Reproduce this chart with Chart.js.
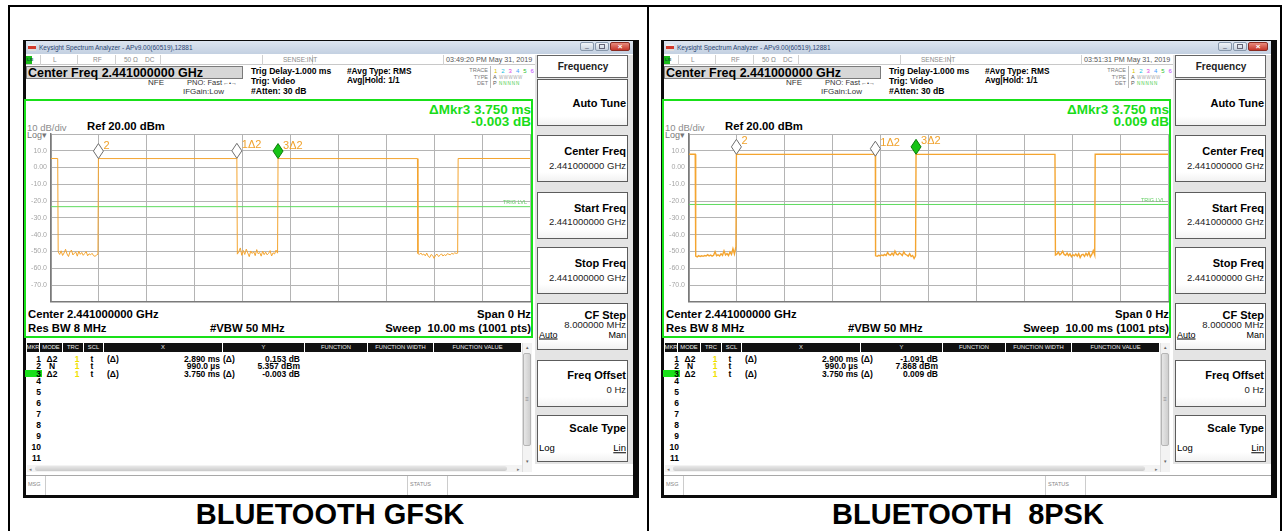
<!DOCTYPE html>
<html>
<head>
<meta charset="utf-8">
<script src="https://cdn.jsdelivr.net/npm/chart.js@4.4.1/dist/chart.umd.min.js"></script>
<style>
html,body{margin:0;padding:0;background:#fff;}
#page{position:relative;width:1285px;height:531px;overflow:hidden;font-family:"Liberation Sans",Arial,sans-serif;color:#000;}
.a{position:absolute;box-sizing:border-box;}
.t{position:absolute;white-space:pre;line-height:1;}
</style>
</head>
<body>
<div id="page"></div>
<script>
// ---- captions and instrument readouts ----
const panelCaptions = ['BLUETOOTH GFSK', 'BLUETOOTH  8PSK'];
const panelTimestamps = ['03:49:20 PM May 31, 2019', '03:51:31 PM May 31, 2019'];
const yTicksDbm = [20, 10, 0, -10, -20, -30, -40, -50, -60, -70, -80];
const sweepMs = [0, 10];

// ---- GFSK trace: burst on/off times (ms), burst levels and off-time noise floor (dBm) ----
const gfskBurstStartMs = [0, 0.99, 4.74, 8.50];
const gfskBurstEndMs = [0.14, 3.88, 7.65, 10];
const gfskBurstDbm = [5.40, 5.36, 5.35, 5.40];
const gfskGap1 = [-50.2,-51.8,-49.6,-52.4,-50.9,-48.7,-51.5,-53.0,-50.3,-49.2,-52.1,-51.0,-50.4,-52.8,-49.9,-51.7,-50.6,-52.3,-51.2,-50.0,-52.6,-51.4,-52.0,-51.1,-52.5,-52.9,-52.2,-51.6];
const gfskGap2 = [-51.6,-50.1,-47.9,-52.3,-49.4,-51.8,-48.6,-50.9,-53.1,-49.7,-51.2,-50.2,-52.5,-48.9,-51.4,-50.6,-52.8,-49.8,-51.9,-50.4,-52.0,-51.1,-49.5,-52.7,-50.8,-51.5,-49.2,-51.0];
const gfskGap3 = [-51.2,-51.8,-50.9,-52.1,-51.5,-52.6,-51.0,-52.9,-53.6,-51.8,-52.4,-54.1,-52.2,-51.6,-53.0,-52.3,-51.4,-52.7,-51.9,-52.5,-51.3,-51.7,-52.0,-51.1,-51.6,-50.8,-51.2,-51.0];
const gfskTrigDbm = -23.3;

// ---- 8PSK trace ----
const psk8BurstStartMs = [0, 0.99, 4.74, 8.48];
const psk8BurstEndMs = [0.13, 3.89, 7.64, 10];
const psk8BurstDbm = [7.90, 7.87, 7.88, 7.90];
const psk8Gap1 = [-52.8,-53.2,-52.5,-53.0,-52.6,-52.9,-52.4,-52.7,-51.9,-52.6,-52.2,-52.8,-52.3,-50.1,-52.5,-52.0,-52.7,-51.4,-52.3,-49.6,-52.1,-51.2,-52.4,-50.3,-51.8,-48.4,-51.5,-47.2];
const psk8Gap2 = [-52.6,-52.9,-52.3,-52.7,-52.1,-52.5,-51.8,-52.4,-50.6,-51.9,-52.2,-51.0,-52.3,-49.8,-51.6,-52.0,-50.9,-51.5,-52.4,-50.2,-51.7,-52.1,-52.8,-51.3,-53.0,-52.4,-54.2,-52.6];
const psk8Gap3 = [-52.1,-51.6,-50.4,-52.0,-51.2,-49.9,-51.8,-52.3,-51.0,-52.5,-51.4,-53.1,-51.9,-52.6,-51.5,-52.8,-51.3,-53.6,-52.0,-51.7,-52.9,-51.1,-52.4,-50.6,-53.2,-51.8,-49.5,-52.2];
const psk8TrigDbm = -22.0;

// ---- marker table (marker 2 is the reference, 1 and 3 are deltas to it) ----
const markerModes = ['Δ2', 'N', 'Δ2'];
const markerFlags = ['1Δ2', '2', '3Δ2'];
const gfskMarkerX = [2.890, 0.990, 3.750];
const gfskMarkerY = [0.153, 5.357, -0.003];
const psk8MarkerX = [2.900, 0.990, 3.750];
const psk8MarkerY = [-1.091, 7.868, 0.009];
const tableRowY = [359, 366.3, 373.6, 381, 392, 403, 414, 425, 436, 447, 458];

// ---- soft keys ----
const softkeyTitles = ['Auto Tune', 'Center Freq', 'Start Freq', 'Stop Freq', 'CF Step', 'Freq Offset', 'Scale Type'];
const softkeyValues = ['', '2.441000000 GHz', '2.441000000 GHz', '2.441000000 GHz', '8.000000 MHz', '0 Hz', ''];

const page = document.getElementById('page');
function box(p, x, y, w, h, css) {
  const d = document.createElement('div');
  d.className = 'a';
  d.style.cssText = `left:${x}px;top:${y}px;width:${w}px;height:${h}px;` + (css || '');
  p.appendChild(d);
  return d;
}
function text(p, x, y, s, css, align) {
  const d = document.createElement('div');
  d.className = 't';
  d.textContent = s;
  d.style.cssText = `left:${x}px;top:${y}px;` + (css || '');
  const tx = align === 'r' ? '-100%' : align === 'c' ? '-50%' : '0';
  d.style.transform = `translate(${tx},-50%)`;
  p.appendChild(d);
  return d;
}

// bursts, noise gaps between them, and marker readings placed on the trace
function buildTrace(starts, ends, levels, gaps, markers) {
  const pts = [];
  for (let i = 0; i < starts.length; i++) {
    pts.push({x: starts[i], y: levels[i]});
    pts.push({x: ends[i], y: levels[i]});
    if (i < gaps.length) {
      const g = gaps[i], t0 = ends[i] + 0.01, t1 = starts[i + 1] - 0.01;
      g.forEach((v, k) => pts.push({x: t0 + (t1 - t0) * k / (g.length - 1), y: v}));
    }
  }
  markers.forEach(m => {
    const k = pts.findIndex(p => p.x > m.t + 1e-6);
    pts.splice(k < 0 ? pts.length : k, 0, {x: m.t, y: m.dbm});
  });
  return pts;
}

const markerPlugin = {
  id: 'mkrs',
  afterDatasetsDraw(chart, args, opts) {
    const {ctx, scales: {x, y}, chartArea} = chart;
    ctx.save();
    const ty = y.getPixelForValue(opts.trig);
    ctx.fillStyle = '#66d066';
    ctx.font = '5.5px "Liberation Sans"';
    ctx.textAlign = 'right';
    ctx.textBaseline = 'bottom';
    ctx.fillText('TRIG LVL', chartArea.right - 3, ty - 1);
    ctx.textAlign = 'left';
    opts.items.forEach(m => {
      const px = x.getPixelForValue(m.t), py = y.getPixelForValue(m.dbm);
      ctx.beginPath();
      ctx.moveTo(px, py);
      ctx.lineTo(px + 5, py - 7.5);
      ctx.lineTo(px, py - 15);
      ctx.lineTo(px - 5, py - 7.5);
      ctx.closePath();
      ctx.fillStyle = m.active ? '#16c416' : '#ffffff';
      ctx.fill();
      ctx.lineWidth = 1;
      ctx.strokeStyle = m.active ? '#0b7a0b' : '#6e6e6e';
      ctx.stroke();
      ctx.fillStyle = '#f0a22c';
      ctx.font = '11px "Liberation Sans"';
      ctx.textBaseline = 'middle';
      ctx.fillText(m.label, px + 5, py - 13);
    });
    ctx.restore();
  }
};

function tickText(v) {
  if (v === 20 || v === -80) return '';
  if (v === 0) return '0.00';
  return v.toFixed(1);
}

function panel(dx, cfg) {
  const P = box(page, dx, 0, 645, 531, '');
  // window frame and title bar
  box(P, 23, 40, 616, 458, 'background:#0b0b0b');
  box(P, 26, 41, 607, 454, 'background:#fff');
  box(P, 26, 41, 607, 13, 'background:linear-gradient(#dde5f0,#c3d0e1)');
  box(P, 28, 44, 8, 7, 'background:linear-gradient(#eee 0 35%,#d2392a 35% 70%,#ddd 70%)');
  text(P, 39, 47.5, 'Keysight Spectrum Analyzer - APv9.00(60519),12881', 'font-size:6.5px;color:#2b4673');
  box(P, 580, 42, 14, 9, 'background:linear-gradient(#f1f4f8,#c8d2de);border:1px solid #8797ab;border-radius:2px');
  box(P, 595, 42, 14, 9, 'background:linear-gradient(#f1f4f8,#c8d2de);border:1px solid #8797ab;border-radius:2px');
  box(P, 610, 42, 20, 9, 'background:linear-gradient(#e88a7c,#c5362a);border:1px solid #8a2b22;border-radius:2px');
  text(P, 620, 46.5, '×', 'font-size:8px;color:#fff;font-weight:bold', 'c');
  text(P, 587, 46.5, '–', 'font-size:7px;color:#556', 'c');
  box(P, 599, 44, 6, 5, 'border:1px solid #667');

  // status row
  box(P, 26, 55, 607, 10, 'border-bottom:1px solid #c8c8c8');
  [40, 77, 115, 160, 262, 312, 443, 535].forEach(x => box(P, x, 55, 1, 10, 'background:#d0d0d0'));
  box(P, 26, 56, 6, 8, 'background:#1bbd1b');
  text(P, 27, 60, 'LXI', 'font-size:4px;color:#053;font-weight:bold');
  [['L', 53], ['RF', 93], ['50 Ω', 124], ['DC', 145], ['SENSE:INT', 283]].forEach(([s, x]) =>
    text(P, x, 60, s, 'font-size:6.5px;color:#8a8a8a'));
  text(P, 446, 60, cfg.stamp, 'font-size:7.2px;color:#555');

  // centre frequency field and setup readouts
  box(P, 26, 66, 217, 13, 'background:#d7d7d7;border:1px solid #7a7a7a');
  text(P, 28, 72.5, 'Center Freq 2.441000000 GHz', 'font-size:12.5px;font-weight:bold');
  text(P, 148, 83, 'NFE', 'font-size:8px;color:#333');
  text(P, 187, 83, 'PNO: Fast', 'font-size:7.5px;color:#333');
  text(P, 223, 83, '←•→', 'font-size:6px;color:#333');
  text(P, 183, 92, 'IFGain:Low', 'font-size:8px;color:#333');
  text(P, 251, 71, 'Trig Delay-1.000 ms', 'font-size:8.6px;font-weight:bold');
  text(P, 251, 81, 'Trig: Video', 'font-size:8.6px;font-weight:bold');
  text(P, 251, 91, '#Atten: 30 dB', 'font-size:8.6px;font-weight:bold');
  text(P, 347, 71, '#Avg Type: RMS', 'font-size:8.3px;font-weight:bold');
  text(P, 347, 80, 'Avg|Hold: 1/1', 'font-size:8.3px;font-weight:bold');
  text(P, 488, 70.5, 'TRACE', 'font-size:5.5px;color:#777', 'r');
  text(P, 488, 77.5, 'TYPE', 'font-size:5.5px;color:#777', 'r');
  text(P, 488, 84, 'DET', 'font-size:5.5px;color:#777', 'r');
  box(P, 490, 66, 44, 22, 'border-left:1px solid #bbb');
  const trCols = ['#d8c400', '#18bfe0', '#e03ce0', '#3f9cff', '#2dbf2d', '#c040ff'];
  trCols.forEach((c, i) => text(P, 494 + i * 7.3, 70.5, String(i + 1), `font-size:6px;color:${c}`));
  text(P, 493, 77.5, 'A', 'font-size:5.5px;color:#555');
  text(P, 499, 77.5, 'WWWWW', 'font-size:4.5px;color:#aaa;letter-spacing:0.5px');
  text(P, 493, 84, 'P', 'font-size:5.5px;color:#555');
  text(P, 499, 84, 'NNNNN', 'font-size:4.5px;color:#4c4;letter-spacing:1px');

  // soft key column
  box(P, 535, 55, 98, 409, 'background:#e4e4e4');
  box(P, 537, 55, 91, 23, 'background:#fff;border:1px solid #666');
  text(P, 583, 67, 'Frequency', 'font-size:10px;font-weight:bold;color:#222', 'c');
  const keyTops = [79, 135, 192, 247, 303, 360, 415];
  const titleOff = [24, 16, 16, 16, 12, 15, 13];
  const valueOff = [0, 31, 30, 31, 22, 30, 0];
  keyTops.forEach((top, i) => {
    box(P, 537, top, 91, 47, 'background:linear-gradient(#fff 0 80%,#f2f2f2);border:1px solid #5c5c5c');
    text(P, 626, top + titleOff[i], softkeyTitles[i], 'font-size:11px;font-weight:bold', 'r');
    if (softkeyValues[i]) text(P, 626, top + valueOff[i], softkeyValues[i], 'font-size:9.5px;color:#222', 'r');
  });
  text(P, 539, 335, 'Auto', 'font-size:9px;text-decoration:underline');
  text(P, 626, 335, 'Man', 'font-size:9px', 'r');
  text(P, 539, 448, 'Log', 'font-size:9.5px');
  text(P, 626, 448, 'Lin', 'font-size:9.5px;text-decoration:underline', 'r');

  // graticule frame and annotations
  box(P, 24, 99, 509, 239, 'border:2px solid #19e019');
  text(P, 531, 109.5, 'ΔMkr3 ' + cfg.mx[2].toFixed(3) + ' ms', 'font-size:13.5px;font-weight:bold;color:#19dc19', 'r');
  text(P, 531, 122, cfg.my[2].toFixed(3) + ' dB', 'font-size:13.5px;font-weight:bold;color:#19dc19', 'r');
  text(P, 27, 127.5, '10 dB/div', 'font-size:9.5px;color:#8c8c8c');
  text(P, 27, 135, 'Log▾', 'font-size:9px;color:#777');
  text(P, 87, 127, 'Ref 20.00 dBm', 'font-size:11.3px;font-weight:bold');
  text(P, 28, 314.5, 'Center 2.441000000 GHz', 'font-size:11.3px;font-weight:bold');
  text(P, 531, 314.5, 'Span 0 Hz', 'font-size:11.3px;font-weight:bold', 'r');
  text(P, 28, 328.5, 'Res BW 8 MHz', 'font-size:11.3px;font-weight:bold');
  text(P, 210, 328.5, '#VBW 50 MHz', 'font-size:11.3px;font-weight:bold');
  text(P, 531, 328.5, 'Sweep  10.00 ms (1001 pts)', 'font-size:11.3px;font-weight:bold', 'r');

  // marker table
  const cols = [[27, 39, 'MKR'], [40, 62, 'MODE'], [63, 83, 'TRC'], [84, 103, 'SCL'], [104, 222, 'X'], [223, 304, 'Y'],
                [305, 367, 'FUNCTION'], [368, 433, 'FUNCTION WIDTH'], [434, 521, 'FUNCTION VALUE']];
  cols.forEach(([a, b, s]) => {
    box(P, a, 343, b - a, 9, 'background:#111');
    text(P, (a + b) / 2, 347.7, s, 'font-size:5.8px;color:#eee', 'c');
  });
  const rowFont = 'font-size:8.5px;font-weight:bold';
  tableRowY.forEach((y, i) => {
    if (i === 2) box(P, 25, y - 3.4, 17, 6.8, 'background:#19e019');
    text(P, 41, y, String(i + 1), rowFont, 'r');
  });
  for (let i = 0; i < 3; i++) {
    const y = tableRowY[i], delta = markerModes[i] !== 'N';
    text(P, 52, y, markerModes[i], rowFont, 'c');
    text(P, 77, y, '1', rowFont + ';color:#f0e000', 'c');
    text(P, 92, y, 't', rowFont, 'c');
    const xs = delta ? cfg.mx[i].toFixed(3) + ' ms' : (cfg.mx[i] * 1000).toFixed(1) + ' µs';
    const ys = delta ? cfg.my[i].toFixed(3) + ' dB' : cfg.my[i].toFixed(3) + ' dBm';
    if (delta) {
      text(P, 107, y, '(Δ)', rowFont);
      text(P, 223, y, '(Δ)', rowFont);
    }
    text(P, 220, y, xs, rowFont, 'r');
    text(P, 300, y, ys, rowFont, 'r');
  }
  // scroll bars
  box(P, 522, 343, 10, 129, 'background:#f3f3f3;border-left:1px solid #ddd');
  box(P, 523, 353, 8, 93, 'background:linear-gradient(90deg,#e6e6e6,#cfcfcf);border:1px solid #b5b5b5;border-radius:2px');
  text(P, 527, 399, '≡', 'font-size:6px;color:#888', 'c');
  text(P, 527, 347, '▴', 'font-size:5px;color:#666', 'c');
  text(P, 527, 461, '▾', 'font-size:5px;color:#666', 'c');
  box(P, 27, 465, 495, 7, 'background:#f3f3f3');
  box(P, 35, 466, 472, 5, 'background:linear-gradient(#e8e8e8,#cacaca);border-radius:3px');
  text(P, 29, 468.5, '◂', 'font-size:5px;color:#777');
  text(P, 517, 468.5, '▸', 'font-size:5px;color:#777');

  // message bar
  box(P, 26, 475, 607, 20, 'border-top:1px solid #a8a8a8;background:#fff');
  box(P, 45, 476, 1, 19, 'background:#ccc');
  box(P, 407, 476, 1, 19, 'background:#ccc');
  box(P, 447, 476, 1, 19, 'background:#ccc');
  text(P, 28, 485, 'MSG', 'font-size:5.5px;color:#888');
  text(P, 410, 485, 'STATUS', 'font-size:5.5px;color:#888');

  // trace plot
  const cv = document.createElement('canvas');
  cv.width = 507; cv.height = 200;
  cv.style.cssText = 'position:absolute;left:25px;top:110px;width:507px;height:200px;';
  P.appendChild(cv);

  const ref = {t: cfg.mx[1], dbm: cfg.my[1]};
  const mk = [0, 1, 2].map(i => {
    const d = markerModes[i] !== 'N';
    return {t: d ? ref.t + cfg.mx[i] : cfg.mx[i], dbm: d ? ref.dbm + cfg.my[i] : cfg.my[i], label: markerFlags[i], active: i === 2};
  });
  const trace = buildTrace(cfg.starts, cfg.ends, cfg.levels, cfg.gaps, mk);

  new Chart(cv, {
    type: 'line',
    data: {
      datasets: [
        {data: trace, borderColor: '#f4a530', borderWidth: cfg.lw, pointRadius: 0, tension: 0},
        {data: [{x: sweepMs[0], y: cfg.trig}, {x: sweepMs[1], y: cfg.trig}], borderColor: '#5fdc5f', borderWidth: 1, pointRadius: 0}
      ]
    },
    options: {
      responsive: false, animation: false, devicePixelRatio: 1,
      layout: {padding: {top: 24, right: 2, bottom: 4, left: 0}},
      plugins: {legend: {display: false}, tooltip: {enabled: false}, mkrs: {items: mk, trig: cfg.trig}},
      scales: {
        x: {type: 'linear', min: sweepMs[0], max: sweepMs[1],
            ticks: {display: false, stepSize: 1},
            grid: {color: '#b4b4b4', drawTicks: false},
            border: {color: '#7a7a7a', width: 1.5},
            afterFit(s) { s.height = 0; }},
        y: {min: yTicksDbm[yTicksDbm.length - 1], max: yTicksDbm[0],
            ticks: {stepSize: 10, color: '#a6a6a6', font: {size: 7, family: 'Liberation Sans'}, padding: 4, callback: v => tickText(v)},
            grid: {color: '#b4b4b4', drawTicks: false},
            border: {color: '#7a7a7a', width: 1.5},
            afterFit(s) { s.width = 26; }}
      }
    },
    plugins: [markerPlugin]
  });

  // caption under the screen capture
  text(P, 330, 513.5, cfg.caption, 'font-size:29px;font-weight:bold', 'c');
}

// outer table rules
box(page, 8, 5, 1274, 2, 'background:#000');
box(page, 8, 5, 2, 526, 'background:#000');
box(page, 647, 5, 2, 526, 'background:#000');
box(page, 1280, 5, 2, 526, 'background:#000');

panel(0, {caption: panelCaptions[0], stamp: panelTimestamps[0], mx: gfskMarkerX, my: gfskMarkerY,
  starts: gfskBurstStartMs, ends: gfskBurstEndMs, levels: gfskBurstDbm, gaps: [gfskGap1, gfskGap2, gfskGap3],
  trig: gfskTrigDbm, lw: 1});
panel(638, {caption: panelCaptions[1], stamp: panelTimestamps[1], mx: psk8MarkerX, my: psk8MarkerY,
  starts: psk8BurstStartMs, ends: psk8BurstEndMs, levels: psk8BurstDbm, gaps: [psk8Gap1, psk8Gap2, psk8Gap3],
  trig: psk8TrigDbm, lw: 1.4});
</script>
</body>
</html>
